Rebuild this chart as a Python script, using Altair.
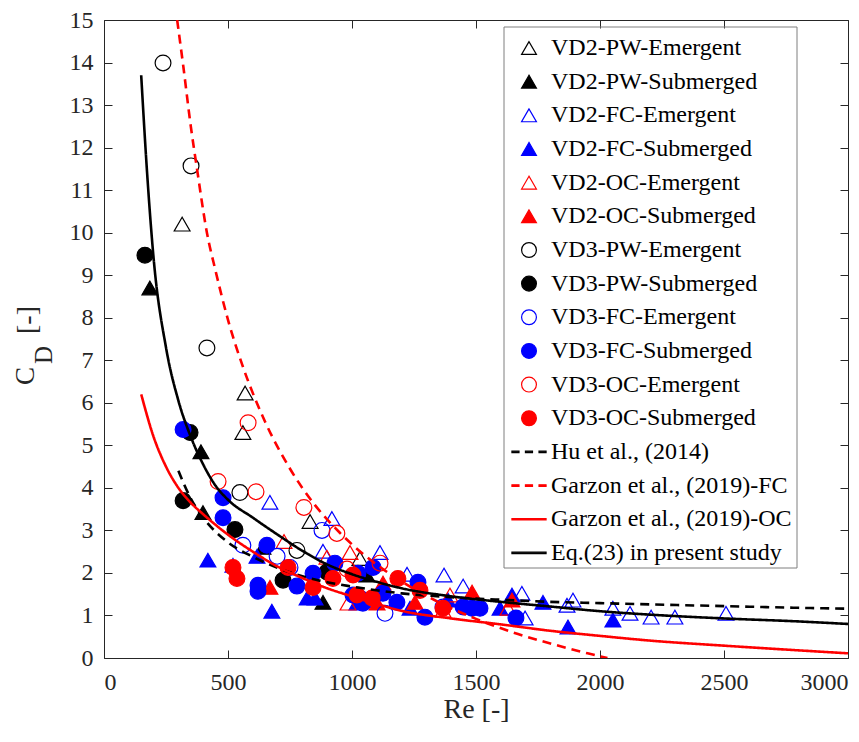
import altair as alt
import pandas as pd

# ---------------- series definitions ----------------
SERIES = [
    "VD2-PW-Emergent", "VD2-PW-Submerged", "VD2-FC-Emergent", "VD2-FC-Submerged",
    "VD2-OC-Emergent", "VD2-OC-Submerged", "VD3-PW-Emergent", "VD3-PW-Submerged",
    "VD3-FC-Emergent", "VD3-FC-Submerged", "VD3-OC-Emergent", "VD3-OC-Submerged",
    "Hu et al., (2014)", "Garzon et al., (2019)-FC", "Garzon et al., (2019)-OC",
    "Eq.(23) in present study",
]
CURVES = SERIES[12:]
K, B, R, T = "#000000", "#0000FF", "#FF0000", "transparent"
STROKES = [K, K, B, B, R, R, K, K, B, B, R, R, K, R, R, K]
FILLS = [T, K, T, B, T, R, T, K, T, B, T, R, K, R, R, K]
# legend glyphs for the four curves: a solid bar or three dashes
SOLID = "M-2.3,-0.1L2.3,-0.1L2.3,0.1L-2.3,0.1Z"
DASHED = ("M-2.3,-0.1L-1.35,-0.1L-1.35,0.1L-2.3,0.1Z "
          "M-0.48,-0.1L0.47,-0.1L0.47,0.1L-0.48,0.1Z "
          "M1.35,-0.1L2.3,-0.1L2.3,0.1L1.35,0.1Z")
SHAPES = ["triangle-up"] * 6 + ["circle"] * 6 + [DASHED, DASHED, SOLID, SOLID]
SIZES = [250] * 6 + [170] * 6
CURVE_DASHES = [[9, 6], [9, 6], [1, 0], [1, 0]]

# ---------------- measured points ----------------
VD2_PW_EM_RE = [315, 560, 569, 831, 1032]
VD2_PW_EM_CD = [10.20, 5.30, 6.23, 3.21, 2.34]
VD2_PW_SUB_RE = [185, 391, 399, 641, 883, 1060]
VD2_PW_SUB_CD = [8.70, 4.85, 3.42, 2.60, 1.31, 1.95]
VD2_FC_EM_RE = [669, 919, 883, 1113, 1222, 1371, 1448, 1685, 1698, 1867, 1891, 2052, 2121, 2206, 2302, 2508]
VD2_FC_EM_CD = [3.66, 3.28, 2.51, 2.48, 1.97, 1.95, 1.69, 1.52, 0.94, 1.24, 1.36, 1.17, 1.05, 0.96, 0.96, 1.05]
VD2_FC_SUB_RE = [419, 520, 617, 677, 819, 851, 1020, 1234, 1387, 1597, 1645, 1770, 1871, 2052]
VD2_FC_SUB_CD = [2.30, 2.18, 2.39, 1.10, 1.41, 1.41, 1.29, 1.17, 1.36, 1.17, 1.48, 1.31, 0.73, 0.89]
VD2_OC_EM_RE = [726, 899, 992, 984, 1395, 1367, 1629]
VD2_OC_EM_CD = [2.74, 2.37, 2.48, 1.29, 1.48, 1.12, 1.17]
VD2_OC_SUB_RE = [669, 1101, 1125, 1254, 1484, 1645]
VD2_OC_SUB_CD = [1.66, 1.29, 1.76, 1.31, 1.55, 1.36]
VD3_PW_EM_RE = [238, 351, 415, 548, 778]
VD3_PW_EM_CD = [13.99, 11.57, 7.29, 3.89, 2.53]
VD3_PW_SUB_RE = [165, 347, 319, 528, 722, 899]
VD3_PW_SUB_CD = [9.47, 5.30, 3.70, 3.02, 1.83, 2.02]
VD3_FC_EM_RE = [560, 698, 750, 879, 1133, 1367]
VD3_FC_EM_CD = [2.65, 2.39, 2.13, 3.00, 1.05, 1.20]
VD3_FC_SUB_RE = [319, 480, 480, 657, 621, 621, 778, 843, 931, 1004, 1032, 1044, 1024, 1085, 1125, 1181, 1266, 1294, 1448, 1484, 1516, 1661]
VD3_FC_SUB_CD = [5.37, 3.77, 3.30, 2.65, 1.71, 1.57, 1.69, 1.99, 2.23, 1.48, 1.41, 1.29, 1.99, 2.13, 1.52, 1.31, 1.78, 0.96, 1.20, 1.17, 1.17, 0.94]
VD3_OC_EM_RE = [460, 581, 613, 806, 939, 980, 1113]
VD3_OC_EM_CD = [4.15, 5.53, 3.91, 3.54, 2.93, 2.09, 2.23]
VD3_OC_SUB_RE = [520, 536, 742, 843, 923, 1004, 1020, 1081, 1185, 1274, 1367]
VD3_OC_SUB_CD = [2.13, 1.87, 2.13, 1.66, 1.87, 1.95, 1.48, 1.41, 1.87, 1.59, 1.17]

# ---------------- reference curves ----------------
HU_RE = [300, 350, 400, 500, 600, 700, 800, 900, 1000, 1200, 1400, 1600, 1800, 2000, 2200, 2500, 2800, 3000]
HU_CD = [4.4, 3.75, 3.3, 2.72, 2.38, 2.12, 1.92, 1.78, 1.68, 1.52, 1.43, 1.37, 1.32, 1.29, 1.26, 1.22, 1.18, 1.16]
GFC_RE = [295, 320, 350, 375, 415, 450, 500, 560, 650, 750, 850, 950, 1050, 1200, 1350, 1500, 1650, 1800, 1950, 2030]
GFC_CD = [15.0, 13.9, 12.5, 11.5, 10.0, 9.1, 7.95, 6.85, 5.55, 4.45, 3.6, 2.95, 2.42, 1.8, 1.31, 0.92, 0.6, 0.34, 0.11, 0.0]
GOC_RE = [150, 200, 250, 300, 350, 400, 500, 600, 700, 800, 900, 1000, 1100, 1200, 1400, 1600, 1800, 2000, 2200, 2500, 2800, 3000]
GOC_CD = [6.2, 5.2, 4.5, 4.0, 3.65, 3.38, 2.9, 2.5, 2.15, 1.88, 1.64, 1.45, 1.27, 1.11, 0.93, 0.79, 0.64, 0.52, 0.41, 0.29, 0.18, 0.11]
EQ_RE = [150, 175, 200, 250, 300, 350, 400, 450, 500, 600, 700, 800, 900, 1000, 1100, 1200, 1400, 1600, 1800, 2000, 2200, 2500, 2800, 3000]
EQ_CD = [13.7, 11.3, 9.4, 7.3, 6.05, 5.2, 4.55, 4.05, 3.72, 3.3, 2.9, 2.52, 2.2, 1.97, 1.79, 1.64, 1.45, 1.32, 1.21, 1.1, 1.02, 0.93, 0.86, 0.8]

POINT_SETS = [
    (VD2_PW_EM_RE, VD2_PW_EM_CD), (VD2_PW_SUB_RE, VD2_PW_SUB_CD),
    (VD2_FC_EM_RE, VD2_FC_EM_CD), (VD2_FC_SUB_RE, VD2_FC_SUB_CD),
    (VD2_OC_EM_RE, VD2_OC_EM_CD), (VD2_OC_SUB_RE, VD2_OC_SUB_CD),
    (VD3_PW_EM_RE, VD3_PW_EM_CD), (VD3_PW_SUB_RE, VD3_PW_SUB_CD),
    (VD3_FC_EM_RE, VD3_FC_EM_CD), (VD3_FC_SUB_RE, VD3_FC_SUB_CD),
    (VD3_OC_EM_RE, VD3_OC_EM_CD), (VD3_OC_SUB_RE, VD3_OC_SUB_CD),
]
LINE_SETS = [(HU_RE, HU_CD), (GFC_RE, GFC_CD), (GOC_RE, GOC_CD), (EQ_RE, EQ_CD)]

rows = []
for name, (xs, ys) in zip(SERIES[:12], POINT_SETS):
    for x, y in zip(xs, ys):
        rows.append({"series": name, "Re": x, "CD": y})
pts = pd.DataFrame(rows)

rows = []
for name, (xs, ys) in zip(CURVES, LINE_SETS):
    for i, (x, y) in enumerate(zip(xs, ys)):
        rows.append({"series": name, "Re": x, "CD": y, "i": i})
lns = pd.DataFrame(rows)

FONT = "Liberation Serif, Times New Roman, serif"
AX = "#262626"
LFS = 24

xscale = alt.Scale(domain=[0, 3000], nice=False)
yscale = alt.Scale(domain=[0, 15], nice=False)

legend = alt.Legend(
    title=None, orient="none", legendX=413, legendY=16, zindex=2,
    labelFont=FONT, labelFontSize=LFS, labelColor="#000000", labelOffset=10,
    padding=0, rowPadding=9.66, labelLimit=400, symbolSize=220, symbolStrokeWidth=1.2,
)

x_bottom = alt.Axis(orient="bottom", values=list(range(0, 3001, 500)), title="Re [-]", format="d",
                    offset=-8, tickSize=8, domain=False, grid=False,
                    labelFont=FONT, labelFontSize=LFS, labelColor=AX, tickColor=AX,
                    labelPadding=12, titleFont=FONT, titleFontSize=28,
                    titleFontWeight="normal", titleColor=AX, titlePadding=1)
y_left = alt.Axis(orient="left", values=list(range(0, 16)), title=None, format="d",
                  offset=-8, tickSize=8, domain=False, grid=False,
                  labelFont=FONT, labelFontSize=LFS, labelColor=AX, tickColor=AX,
                  labelPadding=11)
x_top = alt.Axis(orient="top", values=list(range(0, 3001, 500)), title=None, labels=False,
                 offset=-8, tickSize=8, domain=False, grid=False, tickColor=AX)
y_right = alt.Axis(orient="right", values=list(range(0, 16)), title=None, labels=False,
                   offset=-8, tickSize=8, domain=False, grid=False, tickColor=AX)

sc = lambda dom, rng: alt.Scale(domain=dom, range=rng)

points = alt.Chart(pts).mark_point(filled=True, opacity=1, strokeWidth=1.2).encode(
    x=alt.X("Re:Q", scale=xscale, axis=x_bottom),
    y=alt.Y("CD:Q", scale=yscale, axis=y_left),
    stroke=alt.Stroke("series:N", scale=sc(SERIES, STROKES), legend=legend),
    fill=alt.Fill("series:N", scale=sc(SERIES, FILLS), legend=legend),
    shape=alt.Shape("series:N", scale=sc(SERIES, SHAPES), legend=legend),
    size=alt.Size("series:N", scale=sc(SERIES[:12], SIZES), legend=None),
)

lines = alt.Chart(lns).mark_line(strokeWidth=2.6, interpolate="monotone", clip=True).encode(
    x=alt.X("Re:Q", scale=xscale, axis=x_top),
    y=alt.Y("CD:Q", scale=yscale, axis=y_right),
    stroke=alt.Stroke("series:N", scale=sc(SERIES, STROKES), legend=None),
    strokeDash=alt.StrokeDash("series:N", scale=sc(CURVES, CURVE_DASHES), legend=None),
    order="i:Q",
)

one = pd.DataFrame({"a": [0]})
legend_box = alt.Chart(one).mark_rect(fill="transparent", stroke="#7f7f7f", strokeWidth=1).encode(
    x=alt.value(400), x2=alt.value(693), y=alt.value(7), y2=alt.value(548))

ytitle_c = alt.Chart(one).mark_text(text="C", angle=270, align="left", baseline="alphabetic",
                                     font=FONT, fontSize=27, color=AX).encode(
    x=alt.value(-70), y=alt.value(365))
ytitle_d = alt.Chart(one).mark_text(text="D", angle=270, align="left", baseline="alphabetic",
                                     font=FONT, fontSize=25, color=AX).encode(
    x=alt.value(-52), y=alt.value(344))
ytitle_r = alt.Chart(one).mark_text(text="[-]", angle=270, align="left", baseline="alphabetic",
                                     font=FONT, fontSize=28, color=AX).encode(
    x=alt.value(-68), y=alt.value(314))

chart = alt.layer(points, lines, legend_box, ytitle_c, ytitle_d, ytitle_r).resolve_axis(
    x="independent", y="independent"
).properties(
    width=744, height=638, autosize="none",
    padding={"left": 96, "top": 12, "right": 3, "bottom": 76},
).configure(background="white", font=FONT).configure_view(
    stroke=AX, strokeWidth=1
).configure_axis(labelFont=FONT, titleFont=FONT).configure_legend(
    labelFont=FONT, titleFont=FONT
).configure_text(font=FONT)

chart.save("out.html", embed_options={"renderer": "svg", "actions": False})
